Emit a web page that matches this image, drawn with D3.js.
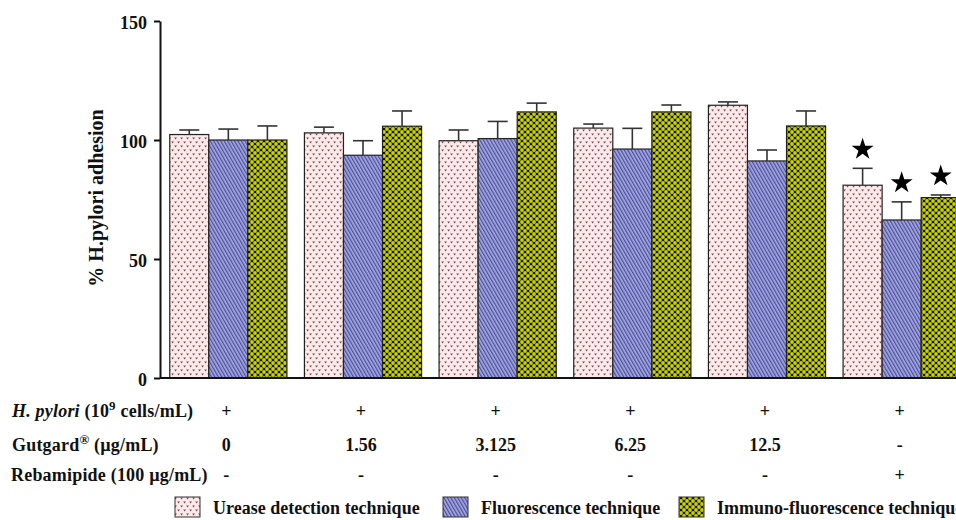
<!DOCTYPE html>
<html lang="en">
<script src="https://d3js.org/d3.v7.min.js"></script>
<style>
  body { margin: 0; background: #fff; }
  text { font-family: "Liberation Serif", "Times New Roman", serif; font-weight: bold; fill: #111; }
</style>
<body>
<svg width="956" height="520"></svg>
<script>
// data
var groups = ["g1", "g2", "g3", "g4", "g5", "g6"];
var series = ["Urease detection technique", "Fluorescence technique", "Immuno-fluorescence technique"];
var urease = [102.3, 103.0, 99.7, 105.0, 114.6, 81.0];
var ureaseErr = [1.9, 2.4, 4.5, 1.7, 1.4, 7.1];
var fluor = [100.0, 93.6, 100.6, 96.2, 91.2, 66.4];
var fluorErr = [4.6, 6.1, 7.2, 8.7, 4.6, 7.6];
var immuno = [100.0, 105.8, 111.8, 111.8, 105.9, 75.8];
var immunoErr = [5.9, 6.4, 3.7, 2.9, 6.3, 1.1];
var significant = [[false, false, false, false, false, true],
                   [false, false, false, false, false, true],
                   [false, false, false, false, false, true]];
var yTicks = [0, 50, 100, 150];
var hpyloriRow = ["+", "+", "+", "+", "+", "+"];
var gutgardRow = ["0", "1.56", "3.125", "6.25", "12.5", "-"];
var rebamipideRow = ["-", "-", "-", "-", "-", "+"];

var svg = d3.select("svg");
var values = [urease, fluor, immuno];
var errors = [ureaseErr, fluorErr, immunoErr];

var y = d3.scaleLinear().domain([0, 150]).range([378, 21]);
var x = d3.scaleBand().domain(groups).range([161, 969]).paddingInner(0.13).paddingOuter(0.065);
var xs = d3.scaleBand().domain(d3.range(3)).range([0, x.bandwidth()]);

// fill patterns
var defs = svg.append("defs");
var p1 = defs.append("pattern").attr("id", "pat0").attr("patternUnits", "userSpaceOnUse")
  .attr("width", 6).attr("height", 8);
p1.append("rect").attr("width", 6).attr("height", 8).attr("fill", "#fce9e9");
p1.append("path").attr("d", "M0.2,1.4 h2.8 l-1.4,2 z M3.2,5.4 h2.8 l-1.4,2 z").attr("fill", "#7e454c");

var p2 = defs.append("pattern").attr("id", "pat1").attr("patternUnits", "userSpaceOnUse")
  .attr("width", 3).attr("height", 10).attr("patternTransform", "rotate(-30)");
p2.append("rect").attr("width", 3).attr("height", 10).attr("fill", "#a7aae0");
p2.append("rect").attr("width", 1.3).attr("height", 10).attr("fill", "#4b509e");

var p3 = defs.append("pattern").attr("id", "pat2").attr("patternUnits", "userSpaceOnUse")
  .attr("width", 6).attr("height", 6);
p3.append("rect").attr("width", 6).attr("height", 6).attr("fill", "#141400");
[[0, 0], [6, 0], [0, 6], [6, 6], [3, 3]].forEach(function (c) {
  p3.append("circle").attr("cx", c[0]).attr("cy", c[1]).attr("r", 1.9).attr("fill", "#c9d300");
});

// bars
for (var s = 0; s < 3; s++) {
  var g = svg.append("g");
  g.selectAll("rect").data(values[s]).enter().append("rect")
    .attr("x", function (d, i) { return x(groups[i]) + xs(s); })
    .attr("y", function (d) { return y(d); })
    .attr("width", xs.bandwidth())
    .attr("height", function (d) { return y(0) - y(d); })
    .attr("fill", "url(#pat" + s + ")")
    .attr("stroke", "#222").attr("stroke-width", 1.2);

  // upper error bars
  var eb = svg.append("g").attr("stroke", "#333").attr("stroke-width", 1.6);
  (function (s) {
    values[s].forEach(function (v, i) {
      var cx = x(groups[i]) + xs(s) + xs.bandwidth() / 2;
      var top = y(v + errors[s][i]);
      eb.append("line").attr("x1", cx).attr("x2", cx).attr("y1", y(v)).attr("y2", top);
      eb.append("line").attr("x1", cx - 10).attr("x2", cx + 10).attr("y1", top).attr("y2", top);
      if (significant[s][i]) {
        svg.append("path").attr("d", d3.symbol(d3.symbolStar, 150)())
          .attr("transform", "translate(" + cx + "," + (top - 19) + ")")
          .attr("fill", "#000");
      }
    });
  })(s);
}

// axes
var yAxis = svg.append("g").attr("transform", "translate(160,0)")
  .call(d3.axisLeft(y).tickValues(yTicks).tickSize(6).tickSizeOuter(0).tickPadding(7));
yAxis.select(".domain").attr("stroke", "#111").attr("stroke-width", 2);
yAxis.selectAll(".tick line").attr("stroke", "#111").attr("stroke-width", 2);
yAxis.selectAll(".tick text").attr("font-size", 18).attr("font-family", null).attr("fill", null).attr("dy", "0.4em");

var xAxis = svg.append("g").attr("transform", "translate(0,378)")
  .call(d3.axisBottom(x).tickSize(0).tickSizeOuter(0).tickFormat(""));
xAxis.select(".domain").attr("stroke", "#111").attr("stroke-width", 2).attr("d", "M160,0H956");

svg.append("text").attr("transform", "translate(103,198) rotate(-90)")
  .attr("text-anchor", "middle").attr("font-size", 20).text("% H.pylori adhesion");

// condition table below the axis
var rowLabels = svg.append("g");
var t1 = rowLabels.append("text").attr("x", 12).attr("y", 417).attr("font-size", 18).attr("letter-spacing", 0.2);
t1.append("tspan").attr("font-style", "italic").text("H. pylori");
t1.append("tspan").text(" (10");
t1.append("tspan").attr("font-size", 13).attr("dy", -7).text("9");
t1.append("tspan").attr("dy", 7).text(" cells/mL)");
var t2 = rowLabels.append("text").attr("x", 12).attr("y", 451).attr("font-size", 18).attr("letter-spacing", 0.2);
t2.append("tspan").text("Gutgard");
t2.append("tspan").attr("font-size", 13).attr("dy", -7).text("®");
t2.append("tspan").attr("dy", 7).text(" (µg/mL)");
rowLabels.append("text").attr("x", 11).attr("y", 481).attr("font-size", 18).attr("letter-spacing", 0.2)
  .text("Rebamipide (100 µg/mL)");

[[hpyloriRow, 417], [gutgardRow, 451], [rebamipideRow, 481]].forEach(function (r) {
  svg.append("g").selectAll("text").data(r[0]).enter().append("text")
    .attr("x", function (d, i) { return x(groups[i]) + x.bandwidth() / 2 - 2; })
    .attr("y", r[1]).attr("text-anchor", "middle").attr("font-size", 18)
    .attr("font-weight", function (d) { return d === "+" ? "normal" : "bold"; })
    .text(function (d) { return d; });
});

// legend
var legendX = [175, 443, 679];
var lg = svg.append("g");
series.forEach(function (name, i) {
  lg.append("rect").attr("x", legendX[i]).attr("y", 497).attr("width", 25).attr("height", 20)
    .attr("fill", "url(#pat" + i + ")").attr("stroke", "#333").attr("stroke-width", 1);
  lg.append("text").attr("x", legendX[i] + 38).attr("y", 514).attr("font-size", 18)
    .text(name);
});
</script>
</body>
</html>
